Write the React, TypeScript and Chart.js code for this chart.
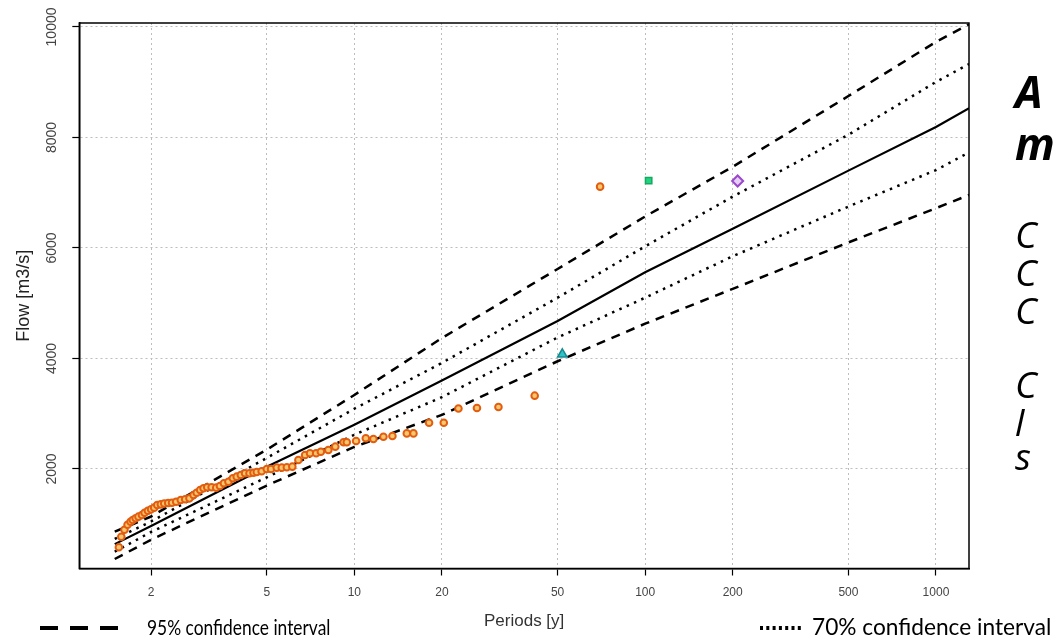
import React, { useEffect, useRef } from 'react';
import { Chart, registerables } from 'chart.js';

Chart.register(...registerables);

// Return periods (years) at which the fitted curves are read
const curvePeriods = [1.5, 2, 5, 10, 20, 50, 100, 200, 500, 1000, 1300];
const centralFlow = [640, 970, 2040, 2800, 3600, 4680, 5560, 6350, 7400, 8190, 8530];
const upper95Flow = [865, 1140, 2350, 3340, 4370, 5620, 6570, 7470, 8750, 9730, 10050];
const upper70Flow = [733, 1050, 2200, 3090, 3920, 5100, 6030, 6930, 8050, 9005, 9330];
const lower70Flow = [503, 860, 1850, 2620, 3300, 4380, 5100, 5850, 6750, 7410, 7730];
const lower95Flow = [371, 720, 1700, 2400, 2980, 3950, 4630, 5260, 6100, 6720, 6960];

// Observed annual maxima (plotting positions)
const obsPeriods = [1.55, 1.58, 1.62, 1.66, 1.70, 1.73, 1.77, 1.81, 1.86, 1.90, 1.95, 2.0, 2.05, 2.10, 2.16, 2.22, 2.29, 2.36, 2.44, 2.53, 2.62, 2.71, 2.80, 2.87, 2.95, 3.03, 3.12, 3.23, 3.35, 3.45, 3.56, 3.69, 3.82, 3.94, 4.07, 4.21, 4.36, 4.50, 4.62, 4.80, 5.0, 5.17, 5.41, 5.63, 5.86, 6.12, 6.42, 6.77, 7.04, 7.39, 7.67, 8.14, 8.6, 9.18, 9.42, 10.14, 10.95, 11.63, 12.59, 13.52, 15.15, 15.97, 18.07, 20.3, 22.8, 26.4, 31.3, 41.7, 70.0];
const obsFlows = [583, 775, 900, 990, 1046, 1077, 1108, 1137, 1167, 1209, 1245, 1270, 1300, 1348, 1360, 1375, 1385, 1390, 1408, 1439, 1451, 1469, 1529, 1571, 1620, 1651, 1669, 1669, 1662, 1692, 1741, 1770, 1832, 1861, 1891, 1922, 1922, 1933, 1945, 1958, 2000, 2000, 2024, 2024, 2031, 2042, 2163, 2253, 2284, 2284, 2313, 2344, 2404, 2483, 2483, 2507, 2556, 2543, 2584, 2597, 2644, 2644, 2838, 2838, 3095, 3104, 3122, 3327, 7110];

// Historical floods
const histSquarePeriods = [102.8];
const histSquareFlows = [7220];
const histDiamondPeriods = [208];
const histDiamondFlows = [7213];
const histTrianglePeriods = [51.9];
const histTriangleFlows = [4076];

// Axis ticks
const xTickValues = [2, 5, 10, 20, 50, 100, 200, 500, 1000];
const yTickValues = [2000, 4000, 6000, 8000, 10000];

const sideTexts = ['A', 'm', 'C', 'C', 'C', 'C', 'l', 's'];

const pts = (xs: number[], ys: number[]) => xs.map((x, i) => ({ x, y: ys[i] }));

const boxPlugin = {
  id: 'box',
  afterDraw(chart: any) {
    const { ctx, chartArea: a } = chart;
    ctx.save();
    ctx.strokeStyle = '#000';
    ctx.lineWidth = 1.5;
    ctx.setLineDash([]);
    ctx.strokeRect(a.left, a.top, a.right - a.left, a.bottom - a.top);
    ctx.restore();
  },
};

export default function App() {
  const ref = useRef<HTMLCanvasElement>(null);

  useEffect(() => {
    if (!ref.current) return;
    const lineDs = (label: string, ys: number[], dash: number[], width: number) => ({
      label,
      data: pts(curvePeriods, ys),
      showLine: true,
      borderColor: '#000',
      borderWidth: width,
      borderDash: dash,
      pointRadius: 0,
      fill: false,
      tension: 0,
    });
    const chart = new Chart(ref.current, {
      type: 'scatter',
      data: {
        datasets: [
          {
            label: 'hist-square',
            data: pts(histSquarePeriods, histSquareFlows),
            pointStyle: 'rect',
            pointRadius: 4.5,
            backgroundColor: '#22d37e',
            borderColor: '#15a862',
            borderWidth: 1.5,
          },
          {
            label: 'hist-diamond',
            data: pts(histDiamondPeriods, histDiamondFlows),
            pointStyle: 'rectRot',
            pointRadius: 5.5,
            backgroundColor: '#e6cff5',
            borderColor: '#9a48cc',
            borderWidth: 2,
          },
          {
            label: 'hist-triangle',
            data: pts(histTrianglePeriods, histTriangleFlows),
            pointStyle: 'triangle',
            pointRadius: 5.5,
            backgroundColor: '#2fc3c8',
            borderColor: '#17898f',
            borderWidth: 1.5,
          },
          {
            label: 'observed',
            data: pts(obsPeriods, obsFlows),
            pointStyle: 'circle',
            pointRadius: 3.3,
            backgroundColor: '#f8c76e',
            borderColor: '#e35d10',
            borderWidth: 2,
          },
          lineDs('central', centralFlow, [], 2.2),
          lineDs('upper95', upper95Flow, [9, 7], 2.5),
          lineDs('lower95', lower95Flow, [9, 7], 2.5),
          lineDs('upper70', upper70Flow, [2.5, 5.5], 2.5),
          lineDs('lower70', lower70Flow, [2.5, 5.5], 2.5),
        ] as any,
      },
      options: {
        responsive: false,
        animation: false,
        devicePixelRatio: 1,
        layout: { padding: { top: 23, right: 85, left: 0, bottom: 0 } },
        plugins: { legend: { display: false }, tooltip: { enabled: false } },
        scales: {
          x: {
            type: 'logarithmic',
            position: 'bottom',
            min: 1.133,
            max: 1299,
            afterBuildTicks: (s: any) => {
              s.ticks = xTickValues.map((v) => ({ value: v }));
            },
            afterFit: (s: any) => {
              s.height = 74.5;
            },
            ticks: {
              autoSkip: false,
              maxRotation: 0,
              minRotation: 0,
              padding: 10,
              color: '#444',
              font: { family: 'Arial', size: 12 },
              callback: (v: any) => String(v),
            },
            grid: {
              color: '#bdbdbd',
              lineWidth: 1,
              tickColor: '#000',
              tickLength: 7,
              tickWidth: 1.2,
              tickBorderDash: [],
            },
            border: { display: true, color: '#000', width: 1.5, dash: [2, 3] },
            title: {
              display: true,
              text: 'Periods [y]',
              color: '#333',
              font: { family: 'Arial', size: 17 },
              padding: { top: 0, bottom: 11 },
            },
          },
          y: {
            type: 'linear',
            position: 'left',
            min: 199,
            max: 10072,
            afterBuildTicks: (s: any) => {
              s.ticks = yTickValues.map((v) => ({ value: v }));
            },
            afterFit: (s: any) => {
              s.width = 79.3;
            },
            ticks: {
              minRotation: 90,
              maxRotation: 90,
              crossAlign: 'center',
              padding: 1,
              color: '#444',
              font: { family: 'Arial', size: 14 },
              callback: (v: any) => String(v),
            },
            grid: {
              color: '#bdbdbd',
              lineWidth: 1,
              tickColor: '#000',
              tickLength: 7,
              tickWidth: 1.2,
              tickBorderDash: [],
            },
            border: { display: true, color: '#000', width: 1.5, dash: [2, 3] },
            title: {
              display: true,
              text: 'Flow [m3/s]',
              color: '#222',
              font: { family: 'Arial', size: 18 },
              padding: { top: 13, bottom: 0 },
            },
          },
        },
      },
      plugins: [boxPlugin],
    } as any);
    return () => chart.destroy();
  }, []);

  const sideTops = [65, 117, 212, 250, 288, 362, 400, 434];
  return (
    <div style={{ position: 'relative', width: 1054, height: 643, overflow: 'hidden', background: '#fff' }}>
      <style>{`html,body{margin:0;padding:0;overflow:hidden;background:#fff}`}</style>
      <canvas ref={ref} width={1054} height={643} style={{ position: 'absolute', left: 0, top: 0 }} />
      {sideTexts.map((t, i) => (
        <div
          key={i}
          style={{
            position: 'absolute',
            left: 1015,
            top: sideTops[i],
            fontFamily: 'Open Sans, sans-serif',
            fontStyle: 'italic',
            fontWeight: i < 2 ? 700 : 400,
            fontSize: i < 2 ? 44 : 37,
            lineHeight: i < 2 ? '52px' : '44px',
            color: '#000',
            whiteSpace: 'nowrap',
          }}
        >
          {t}
        </div>
      ))}
      <svg style={{ position: 'absolute', left: 0, top: 610 }} width={1054} height={33}>
        <line x1={40} y1={18} x2={128} y2={18} stroke="#000" strokeWidth={4} strokeDasharray="18 12" />
        <line x1={760} y1={18} x2={803} y2={18} stroke="#000" strokeWidth={4} strokeDasharray="3 3.3" />
      </svg>
      <div style={{ position: 'absolute', left: 147, top: 614, fontFamily: 'Lato, sans-serif', fontSize: 22, lineHeight: '26px', whiteSpace: 'nowrap', transform: 'scaleX(0.79)', transformOrigin: 'left center' }}>
        95% confidence interval
      </div>
      <div style={{ position: 'absolute', left: 812, top: 614, fontFamily: 'Lato, sans-serif', fontSize: 22.7, lineHeight: '26px', whiteSpace: 'nowrap' }}>
        70% confidence interval
      </div>
    </div>
  );
}
